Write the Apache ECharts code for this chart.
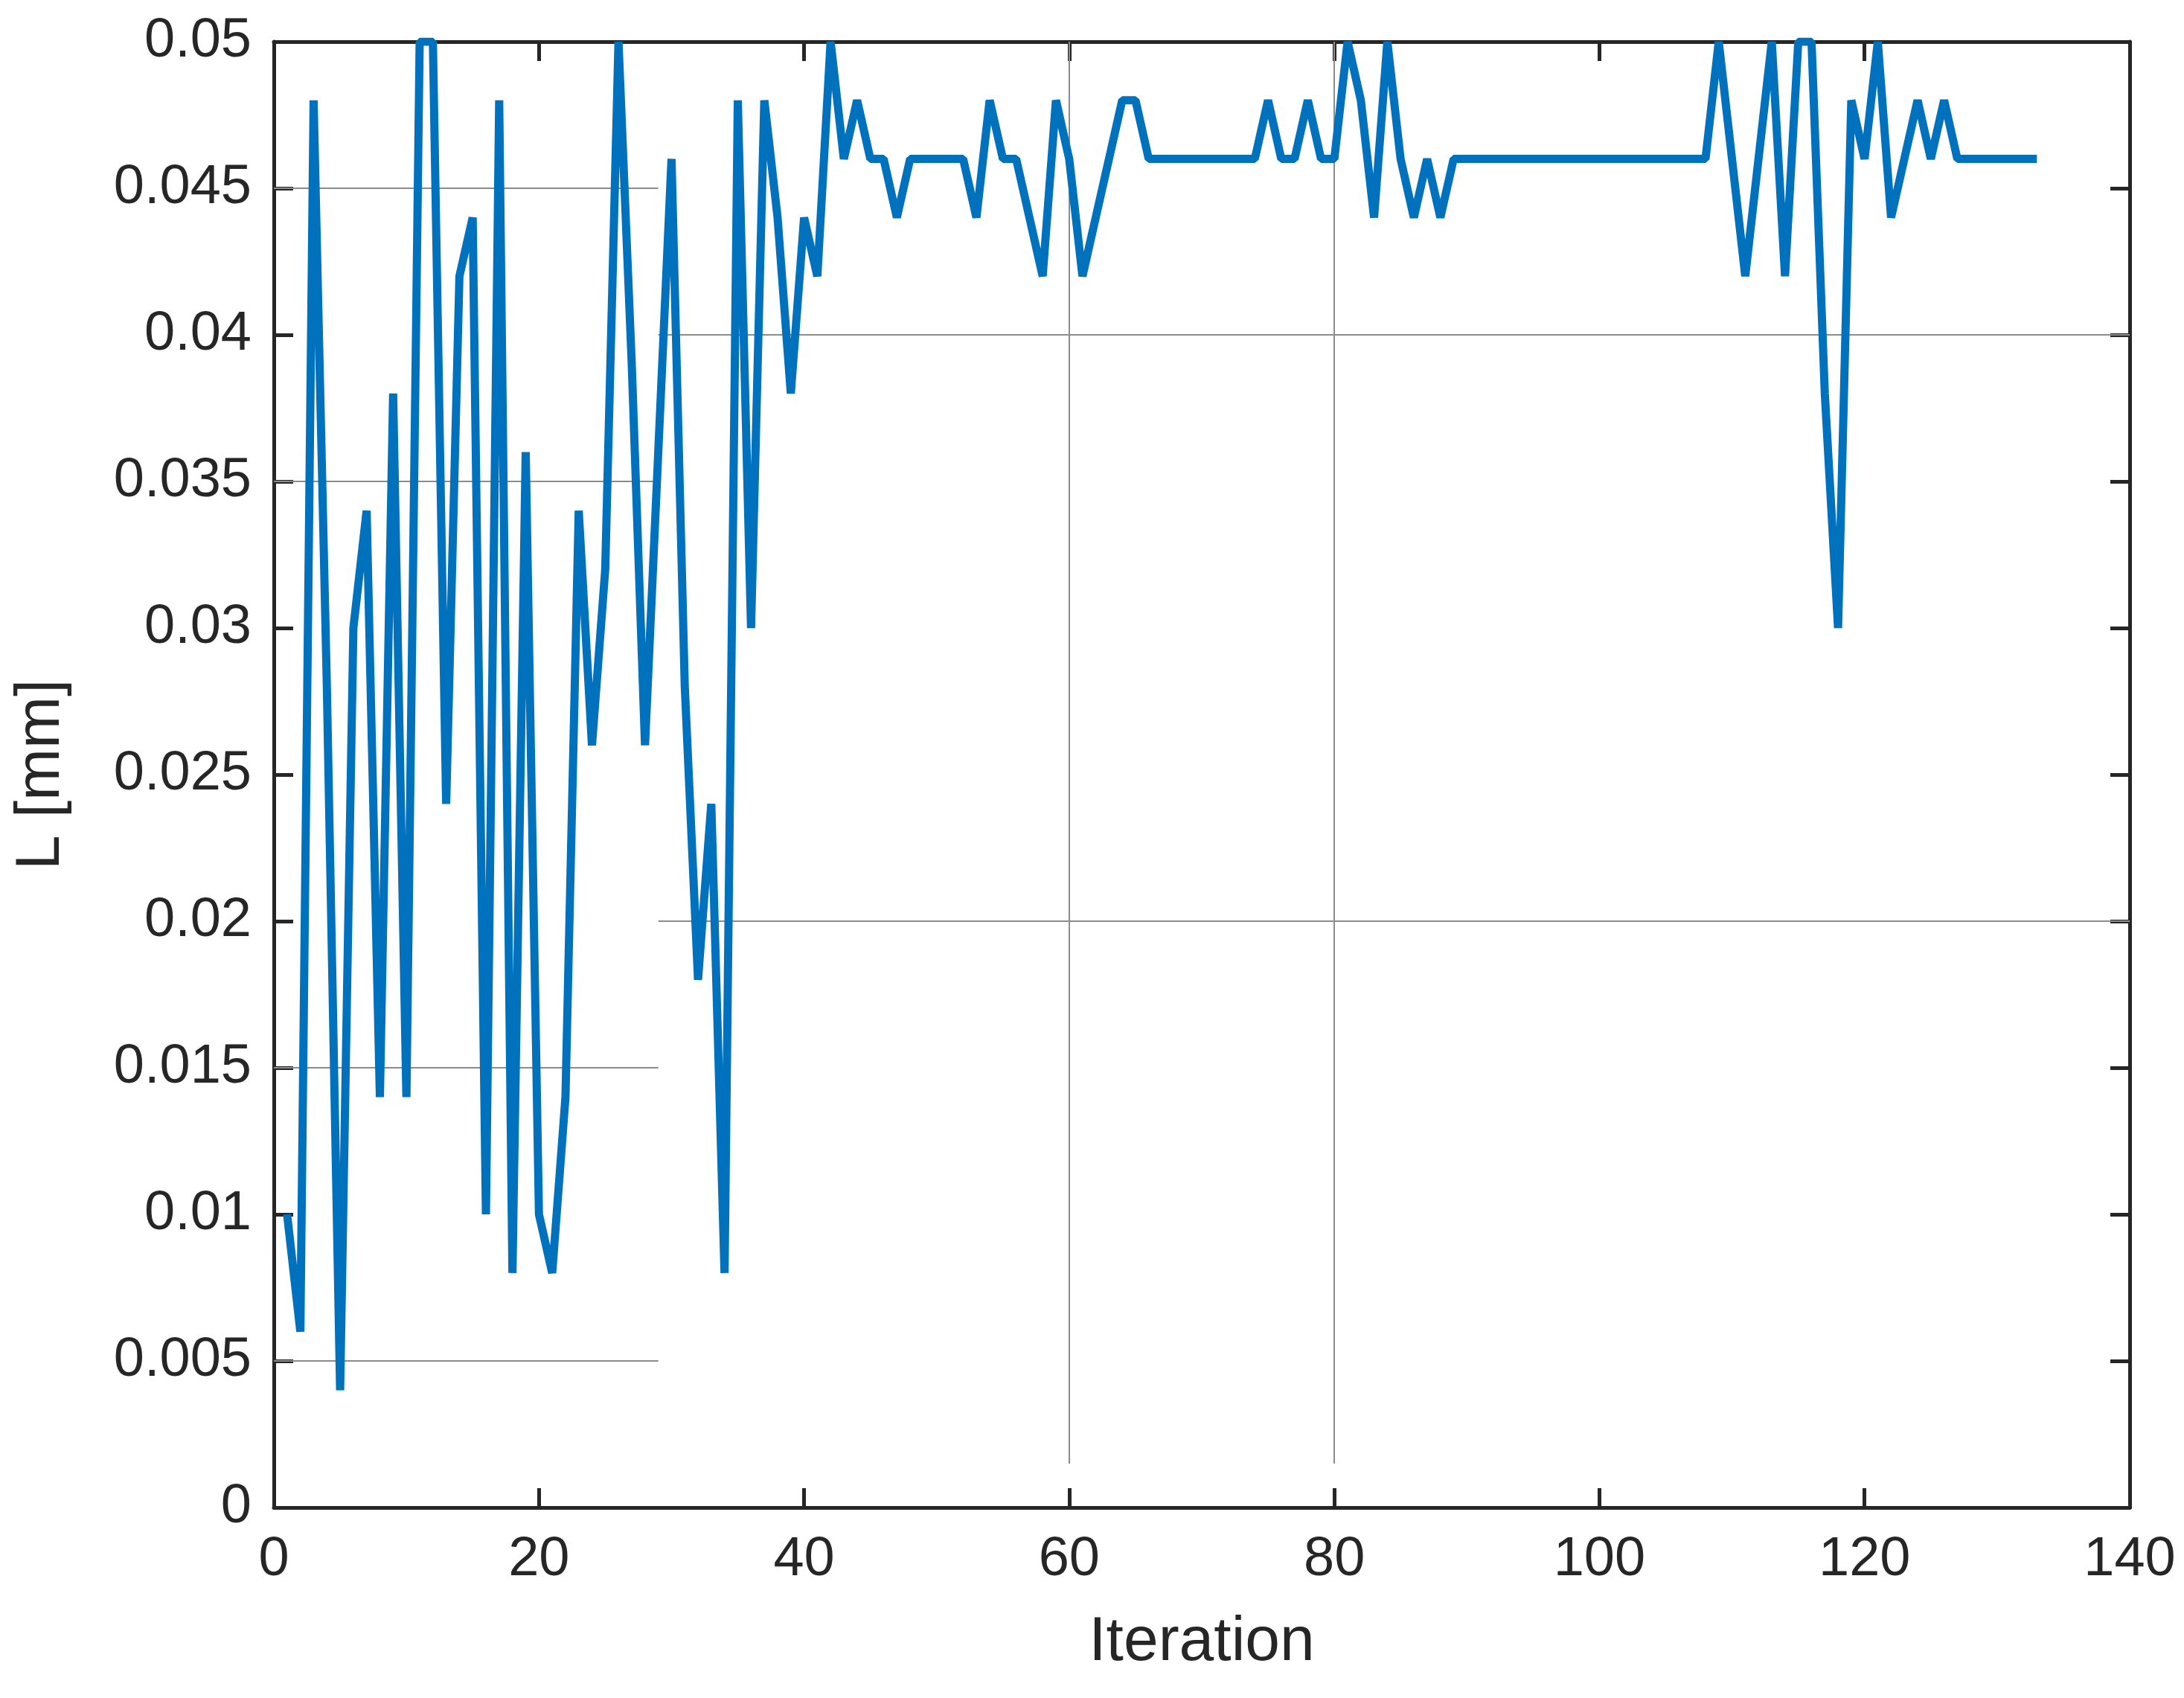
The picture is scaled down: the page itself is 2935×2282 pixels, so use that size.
<!DOCTYPE html>
<html><head><meta charset="utf-8">
<script src="https://cdn.jsdelivr.net/npm/echarts@6/dist/echarts.min.js"></script>
<style>html,body{margin:0;padding:0;background:#fff}#c{width:2935px;height:2282px}</style>
</head><body><div id="c"></div>
<script>
const iterations = Array.from({length:133},(_, k)=>k+1);
const Lvalues = [
0.010,0.006,0.048,0.028,0.004,0.030,0.034,0.014,0.038,0.014,
0.050,0.050,0.024,0.042,0.044,0.010,0.048,0.008,0.036,0.010,
0.008,0.014,0.034,0.026,0.032,0.050,0.039,0.026,0.036,0.046,
0.028,0.018,0.024,0.008,0.048,0.030,0.048,0.044,0.038,0.044,
0.042,0.050,0.046,0.048,0.046,0.046,0.044,0.046,0.046,0.046,
0.046,0.046,0.044,0.048,0.046,0.046,0.044,0.042,0.048,0.046,
0.042,0.044,0.046,0.048,0.048,0.046,0.046,0.046,0.046,0.046,
0.046,0.046,0.046,0.046,0.048,0.046,0.046,0.048,0.046,0.046,
0.050,0.048,0.044,0.050,0.046,0.044,0.046,0.044,0.046,0.046,
0.046,0.046,0.046,0.046,0.046,0.046,0.046,0.046,0.046,0.046,
0.046,0.046,0.046,0.046,0.046,0.046,0.046,0.046,0.050,0.046,
0.042,0.046,0.050,0.042,0.050,0.050,0.038,0.030,0.048,0.046,
0.050,0.044,0.046,0.048,0.046,0.048,0.046,0.046,0.046,0.046,
0.046,0.046,0.046];
const leftGridY = [0.045,0.035,0.015,0.005];
const rightGridY = [0.04,0.02];
const gridSplitX = 29;
const vertGridX = [60,80];
const vertGridBottom = 0.0015;

const axisCol = '#262626';
const font = 'Liberation Sans, Arial, sans-serif';
const gl = {color:'#8c8c8c', width:2, type:'solid'};
const ml = [];
leftGridY.forEach(y=>ml.push([{coord:[0,y]},{coord:[gridSplitX,y]}]));
rightGridY.forEach(y=>ml.push([{coord:[gridSplitX,y]},{coord:[140,y]}]));
vertGridX.forEach(x=>ml.push([{coord:[x,vertGridBottom]},{coord:[x,0.05]}]));

function ax(extra){return Object.assign({
  axisLine:{show:true,onZero:false,lineStyle:{color:axisCol,width:5}},
  axisTick:{show:true,inside:true,length:26,lineStyle:{color:axisCol,width:5}},
  splitLine:{show:false}},extra);}

const chart = echarts.init(document.getElementById('c'));
chart.setOption({
  animation:false,
  backgroundColor:'#fff',
  grid:{left:368,right:73,top:56,bottom:256},
  xAxis:[
    ax({type:'value',min:0,max:140,interval:20,name:'Iteration',nameLocation:'middle',nameGap:140,
      nameTextStyle:{fontFamily:font,fontSize:84,color:axisCol},
      axisLabel:{fontFamily:font,fontSize:74,color:axisCol,margin:34}}),
    ax({type:'value',position:'top',min:0,max:140,interval:20,axisLabel:{show:false}})
  ],
  yAxis:[
    ax({type:'value',min:0,max:0.05,interval:0.005,name:'L [mm]',nameLocation:'middle',nameGap:270,
      nameTextStyle:{fontFamily:font,fontSize:84,color:axisCol},
      axisLabel:{fontFamily:font,fontSize:74,color:axisCol,margin:30,
        formatter:v=>(+v.toFixed(3)).toString()}}),
    ax({type:'value',position:'right',min:0,max:0.05,interval:0.005,axisLabel:{show:false}})
  ],
  series:[{
    type:'line',data:iterations.map((x,i)=>[x,Lvalues[i]]),showSymbol:false,
    lineStyle:{color:'#0072BD',width:11},itemStyle:{color:'#0072BD'},z:3,
    markLine:{silent:true,symbol:['none','none'],label:{show:false},lineStyle:gl,data:ml,z:1}
  }]
});
</script></body></html>
